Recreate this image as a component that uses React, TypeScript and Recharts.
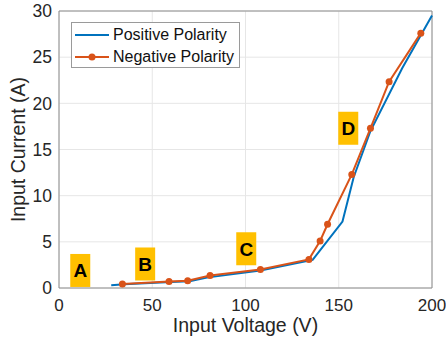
import React from 'react';
import {
  LineChart,
  Line,
  XAxis,
  YAxis,
  CartesianGrid,
  ReferenceDot,
  ReferenceLine,
} from 'recharts';

// Positive polarity (no markers)
const positiveVoltage = [28, 35, 60, 70, 80, 108, 136, 152, 158, 167, 184, 200];
const positiveCurrent = [0.3, 0.4, 0.65, 0.72, 1.15, 1.9, 3.05, 7.2, 12.0, 17.0, 23.8, 29.5];

// Negative polarity (with markers)
const negativeVoltage = [34, 59, 69, 81, 108, 134, 140, 144, 157, 167, 177, 194];
const negativeCurrent = [0.43, 0.71, 0.79, 1.36, 2.0, 3.1, 5.1, 6.9, 12.3, 17.3, 22.35, 27.6];

// Region labels
const regionNames = ['A', 'B', 'C', 'D'];
const regionVoltage = [11.4, 46.2, 100.4, 155.1];
const regionCurrent = [1.9, 2.6, 4.25, 17.3];

const seriesNames = ['Positive Polarity', 'Negative Polarity'];

const xTicks = [0, 50, 100, 150, 200];
const yTicks = [0, 5, 10, 15, 20, 25, 30];

const BLUE = '#0072BD';
const ORANGE = '#D95319';
const FONT = 'Arial, "Liberation Sans", sans-serif';

const positiveData = positiveVoltage.map((v, i) => ({ v, i: positiveCurrent[i] }));
const negativeData = negativeVoltage.map((v, i) => ({ v, i: negativeCurrent[i] }));

const RegionBox = (props: any) => {
  const { cx, cy, letter } = props;
  return (
    <g>
      <rect x={cx - 10} y={cy - 16.5} width={20} height={33} fill="#FFC000" />
      <text
        x={cx}
        y={cy + 7}
        textAnchor="middle"
        fontFamily={FONT}
        fontWeight="bold"
        fontSize={19}
        fill="#000"
      >
        {letter}
      </text>
    </g>
  );
};

// legend drawn as an overlay so it doesn't shrink the plot area
const LegendBox = () => (
  <div
    style={{
      position: 'absolute',
      left: 71,
      top: 22,
      width: 169,
      height: 46,
      border: '1px solid #9a9a9a',
      background: '#fff',
      fontFamily: FONT,
      fontSize: 16,
      color: '#111',
      boxSizing: 'border-box',
    }}
  >
    {seriesNames.map((name, k) => (
      <div
        key={name}
        style={{
          position: 'absolute',
          left: 3,
          top: 2 + k * 21.5,
          height: 20,
          display: 'flex',
          alignItems: 'center',
          whiteSpace: 'nowrap',
        }}
      >
        <svg width={34} height={20} style={{ marginRight: 4 }}>
          <line
            x1={0}
            y1={10}
            x2={34}
            y2={10}
            stroke={k === 0 ? BLUE : ORANGE}
            strokeWidth={2}
          />
          {k === 1 && <circle cx={17} cy={10} r={3.5} fill={ORANGE} />}
        </svg>
        <span>{name}</span>
      </div>
    ))}
  </div>
);

export default function App() {
  return (
    <div style={{ position: 'relative', width: 446, height: 349, background: '#fff' }}>
      <style>{'body{margin:0}'}</style>
      <LineChart
        width={446}
        height={349}
        margin={{ top: 11, right: 14, left: 0, bottom: 0 }}
      >
        <CartesianGrid stroke="#e6e6e6" />
        <XAxis
          type="number"
          dataKey="v"
          domain={[0, 200]}
          ticks={xTicks}
          height={61}
          stroke="#8c8c8c"
          tickLine={false}
          tickSize={5}
          tickMargin={6}
          tick={{ fill: '#262626', fontSize: 17, fontFamily: FONT }}
          label={{
            value: 'Input Voltage (V)',
            position: 'insideBottom',
            offset: 17,
            style: { fill: '#262626', fontSize: 19.5, fontFamily: FONT },
          }}
        />
        <YAxis
          type="number"
          domain={[0, 30]}
          ticks={yTicks}
          width={59}
          stroke="#8c8c8c"
          tickLine={false}
          tickSize={5}
          tickMargin={2}
          tick={{ fill: '#262626', fontSize: 17.5, fontFamily: FONT }}
          label={{
            value: 'Input Current (A)',
            angle: -90,
            position: 'insideLeft',
            offset: 18,
            style: { textAnchor: 'middle', fill: '#262626', fontSize: 19.5, fontFamily: FONT },
          }}
        />
        <ReferenceLine y={30} stroke="#8c8c8c" />
        <ReferenceLine x={200} stroke="#8c8c8c" />
        {regionNames.map((name, k) => (
          <ReferenceDot
            key={name}
            x={regionVoltage[k]}
            y={regionCurrent[k]}
            r={0}
            shape={(p: any) => <RegionBox {...p} letter={name} />}
          />
        ))}
        <Line
          data={positiveData}
          dataKey="i"
          name={seriesNames[0]}
          stroke={BLUE}
          strokeWidth={2}
          dot={false}
          isAnimationActive={false}
        />
        <Line
          data={negativeData}
          dataKey="i"
          name={seriesNames[1]}
          stroke={ORANGE}
          strokeWidth={2}
          dot={{ r: 3.5, fill: ORANGE, stroke: ORANGE, strokeWidth: 0 }}
          isAnimationActive={false}
        />
      </LineChart>
      <LegendBox />
    </div>
  );
}
